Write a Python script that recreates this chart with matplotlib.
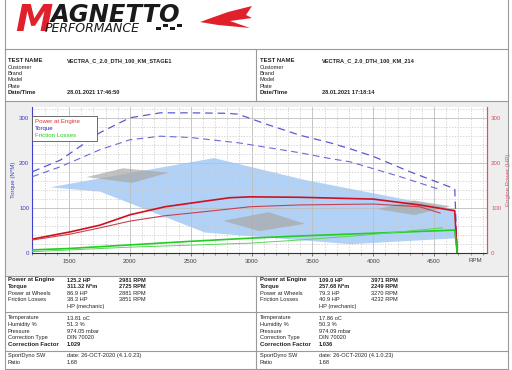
import matplotlib
matplotlib.use("Agg")
import matplotlib.pyplot as plt
from matplotlib.patches import Rectangle, Polygon
from matplotlib.lines import Line2D
import numpy as np

W, H = 512, 370

# ---------------- data ----------------
rpm_tq_s1 = [1200, 1430, 1755, 2000, 2250, 2500, 2800, 2890, 3130, 3400, 3650, 3810, 4000, 4300, 4670, 4690]
torque_s1 = [181, 207, 268, 301, 312, 312, 311, 309, 286, 262, 245, 232, 215, 181, 143, 0]

rpm_tq_or = [1200, 1430, 1755, 2000, 2250, 2500, 2900, 3400, 3650, 3810, 4220, 4550]
torque_or = [170, 192, 230, 252, 260, 257, 245, 223, 210, 203, 170, 141]

rpm_pw_s1 = [1200, 1510, 1755, 2000, 2290, 2580, 2820, 2990, 3400, 4000, 4380, 4670, 4690]
power_s1 = [31, 47, 62, 85, 103, 114, 123, 125, 124, 120, 107, 94, 0]

rpm_pw_or = [1200, 1510, 1755, 2000, 2290, 2580, 2990, 3400, 4000, 4380, 4550]
power_or = [29, 42, 56, 71, 83, 91, 103, 107, 109, 103, 89]

rpm_fl_s1 = [1200, 1500, 2000, 2500, 2990, 3400, 4000, 4670, 4690]
friction_s1 = [7, 10, 18, 26, 33, 38, 44, 51, 0]

rpm_fl_or = [1200, 2000, 2990, 3400, 3940, 4570]
friction_or = [3, 13, 22, 29, 40, 56]

x_ticks = [1500, 2000, 2500, 3000, 3500, 4000, 4500]
y_ticks = [0, 100, 200, 300]

legend_labels = ["Power at Engine", "Torque", "Friction Losses"]

header_labels = ["TEST NAME", "Customer", "Brand", "Model", "Plate", "Date/Time"]
header_left = ["VECTRA_C_2.0_DTH_100_KM_STAGE1", "", "", "", "", "28.01.2021 17:46:50"]
header_right = ["VECTRA_C_2.0_DTH_100_KM_214", "", "", "", "", "28.01.2021 17:18:14"]

res_labels = ["Power at Engine", "Torque", "Power at Wheels", "Friction Losses", ""]
res_left_val = ["125.2 HP", "311.32 N*m", "86.9 HP", "38.3 HP", "HP (mechanic)"]
res_left_rpm = ["2981 RPM", "2725 RPM", "2881 RPM", "3851 RPM", ""]
res_right_val = ["109.0 HP", "257.68 N*m", "79.3 HP", "40.9 HP", "HP (mechanic)"]
res_right_rpm = ["3971 RPM", "2249 RPM", "3270 RPM", "4232 RPM", ""]

cond_labels = ["Temperature", "Humidity %", "Pressure", "Correction Type", "Correction Factor"]
cond_left = ["13.81 oC", "51.3 %", "974.05 mbar", "DIN 70020", "1.029"]
cond_right = ["17.86 oC", "50.3 %", "974.09 mbar", "DIN 70020", "1.036"]

sw_labels = ["SportDyno SW", "Ratio"]
sw_left = ["date: 26-OCT-2020 (4.1.0.23)", "1.68"]
sw_right = ["date: 26-OCT-2020 (4.1.0.23)", "1.68"]

# ---------------- figure ----------------
FAM = ['Liberation Sans', 'DejaVu Sans']
plt.rcParams['font.family'] = FAM
fig = plt.figure(figsize=(W / 100, H / 100), dpi=100)
fig.patch.set_facecolor("white")

FS = 4.1      # regular table text
FSB = 4.3     # bold row labels
TXT = "#222222"


def fx(x):
    return x / W


def fy(y):
    return 1 - y / H


def ftext(x, y, s, size=FS, **kw):
    va = kw.pop("va", "center")
    ha = kw.pop("ha", "left")
    fam = kw.pop("family", FAM)
    color = kw.pop("color", TXT)
    fig.text(fx(x), fy(y), s, fontsize=size, va=va, ha=ha, family=fam, color=color, **kw)


def hline(y, x0, x1, color="#9a9a9a", lw=0.8):
    fig.add_artist(Line2D([fx(x0), fx(x1)], [fy(y), fy(y)], color=color, lw=lw))


def vline(x, y0, y1, color="#9a9a9a", lw=0.8):
    fig.add_artist(Line2D([fx(x), fx(x)], [fy(y0), fy(y1)], color=color, lw=lw))


# chart panel background
fig.add_artist(Rectangle((fx(5), fy(276)), fx(503), 175 / H, facecolor="#eeeeee",
                         edgecolor="none", zorder=0))

# frame lines
vline(5, 0, 369)
vline(508, 0, 369)
hline(49, 5, 508)
hline(101, 5, 508)
hline(276, 5, 508)
hline(312, 5, 508)
hline(351, 5, 508)
hline(369, 5, 508)
vline(256, 49, 101)
vline(256, 276, 369)

# ---------------- logo ----------------
ftext(15, 31, "M", size=27, color="#e0202a", weight="bold", style="italic",
      va="baseline", family="DejaVu Sans")
ftext(51, 22.5, "AGNETTO", size=17.5, color="#1a1a1a", weight="bold", style="italic",
      va="baseline", family="DejaVu Sans")
ftext(45, 32, "PERFORMANCE", size=9.0, color="#1a1a1a", style="italic",
      va="baseline", family="DejaVu Sans")
for i in range(4):
    fig.add_artist(Rectangle((fx(156 + i * 7), fy(30 - (i % 2) * 3)), 4.5 / W, 2.5 / H,
                             facecolor="#1a1a1a", edgecolor="none"))
fig.add_artist(Polygon([(fx(200), fy(22)), (fx(228), fy(12)), (fx(252), fy(6)),
                        (fx(246), fy(15)), (fx(252), fy(18)), (fx(230), fy(21)),
                        (fx(250), fy(28)), (fx(218), fy(25))],
                       closed=True, facecolor="#e0202a", edgecolor="none"))

# ---------------- header ----------------
for i, lab in enumerate(header_labels):
    y = 61 + i * 6.3
    bold = "bold" if lab in ("TEST NAME", "Date/Time") else "normal"
    sz = FSB if bold == "bold" else FS
    ftext(8, y, lab, weight=bold, size=sz)
    ftext(260, y, lab, weight=bold, size=sz)
    if header_left[i]:
        ftext(67, y, header_left[i], weight="bold")
    if header_right[i]:
        ftext(322, y, header_right[i], weight="bold")

# ---------------- chart ----------------
ax = fig.add_axes([fx(32), fy(253), (487 - 32) / W, (253 - 107) / H])
ax.set_facecolor("white")
ax.set_xlim(1196, 4935)
ax.set_ylim(0, 325)

# watermark (decorative background logo)
ax.add_patch(Polygon([(0.04, 0.45), (0.40, 0.65), (0.60, 0.50), (0.93, 0.30),
                      (0.93, 0.10), (0.70, 0.06), (0.38, 0.14), (0.15, 0.42)],
                     closed=True, transform=ax.transAxes, facecolor="#a9cdf5",
                     edgecolor="none", alpha=0.9, zorder=0.5))
for poly in ([(0.12, 0.52), (0.20, 0.58), (0.30, 0.55), (0.22, 0.48)],
             [(0.42, 0.22), (0.52, 0.28), (0.60, 0.20), (0.50, 0.15)],
             [(0.76, 0.30), (0.84, 0.36), (0.92, 0.32), (0.84, 0.26)]):
    ax.add_patch(Polygon(poly, closed=True, transform=ax.transAxes,
                         facecolor="#a8a8a8", edgecolor="none", alpha=0.7, zorder=0.6))

# grid
ax.set_xticks(np.arange(1200, 4901, 100), minor=True)
ax.set_yticks(np.arange(0, 321, 20), minor=True)
ax.grid(which="minor", color="#c8c8c8", ls=(0, (2, 2)), lw=0.5)
ax.grid(which="major", color="#bdbdbd", ls="-", lw=0.6)
ax.set_axisbelow(True)

ax.plot(rpm_tq_s1, torque_s1, color="#5a5ad0", lw=0.9, ls=(0, (6, 4)), zorder=3)
ax.plot(rpm_tq_or, torque_or, color="#6a6ad8", lw=0.8, ls=(0, (6, 4)), zorder=3)
ax.plot(rpm_pw_s1, power_s1, color="#d0101e", lw=1.2, zorder=4)
ax.plot(rpm_pw_or, power_or, color="#c84050", lw=0.8, zorder=4)
ax.plot(rpm_fl_s1, friction_s1, color="#22cc22", lw=1.2, zorder=4)
ax.plot(rpm_fl_or, friction_or, color="#55d855", lw=0.7, zorder=4)

ax.set_xticks(x_ticks)
ax.set_yticks(y_ticks)
ax.tick_params(axis="x", labelsize=4.4, colors="#444444", length=2, width=0.5, pad=2)
ax.tick_params(axis="x", which="minor", length=1.5, width=0.4, colors="#444444")
ax.tick_params(axis="y", which="both", length=0, labelsize=4.4, colors="#4040d0", pad=2)
ax.spines["top"].set_visible(False)
ax.spines["left"].set_color("#4040d0")
ax.spines["right"].set_color("#e05060")
ax.spines["bottom"].set_color("#333333")
for s in ax.spines.values():
    s.set_linewidth(0.8)

ax2 = ax.twinx()
ax2.set_ylim(0, 325)
ax2.set_yticks(y_ticks)
ax2.tick_params(axis="y", length=0, labelsize=4.4, colors="#e05060", pad=3)
ax2.spines["right"].set_color("#e05060")
ax2.spines["right"].set_linewidth(0.8)
ax2.spines["top"].set_visible(False)
ax2.spines["left"].set_visible(False)
ax2.spines["bottom"].set_visible(False)

ax.set_ylabel("Torque (N*M)", fontsize=4.4, color="#4040d0", labelpad=2)
ax2.set_ylabel("Engine Power (HP)", fontsize=4.4, color="#e05060", labelpad=3)
ftext(475, 261, "RPM", color="#444444", ha="center", size=4.4)

# legend (text only)
leg_colors = ["#e03030", "#2020d0", "#22cc22"]
fig.add_artist(Rectangle((fx(32), fy(141)), 65 / W, 25 / H, facecolor="white",
                         edgecolor="#555555", lw=0.6, zorder=5))
for i, (lab, c) in enumerate(zip(legend_labels, leg_colors)):
    ftext(35, 121 + i * 7.3, lab, color=c, zorder=6, size=4.4)

# ---------------- results ----------------
for i in range(5):
    y = 280 + i * 6.6
    bold = "bold" if i < 2 else "normal"
    sz = FSB if i < 2 else FS
    ftext(8, y, res_labels[i], weight=bold, size=sz)
    ftext(260, y, res_labels[i], weight=bold, size=sz)
    ftext(67, y, res_left_val[i], weight=bold)
    ftext(119, y, res_left_rpm[i], weight=bold)
    ftext(319, y, res_right_val[i], weight=bold)
    ftext(371, y, res_right_rpm[i], weight=bold)

for i in range(5):
    y = 318 + i * 6.6
    bold = "bold" if i == 4 else "normal"
    sz = FSB if i == 4 else FS
    ftext(8, y, cond_labels[i], weight=bold, size=sz)
    ftext(260, y, cond_labels[i], weight=bold, size=sz)
    ftext(67, y, cond_left[i], weight=bold)
    ftext(319, y, cond_right[i], weight=bold)

for i in range(2):
    y = 356 + i * 7
    ftext(8, y, sw_labels[i])
    ftext(260, y, sw_labels[i])
    ftext(67, y, sw_left[i])
    ftext(319, y, sw_right[i])

fig.savefig("out.png", dpi=100)
